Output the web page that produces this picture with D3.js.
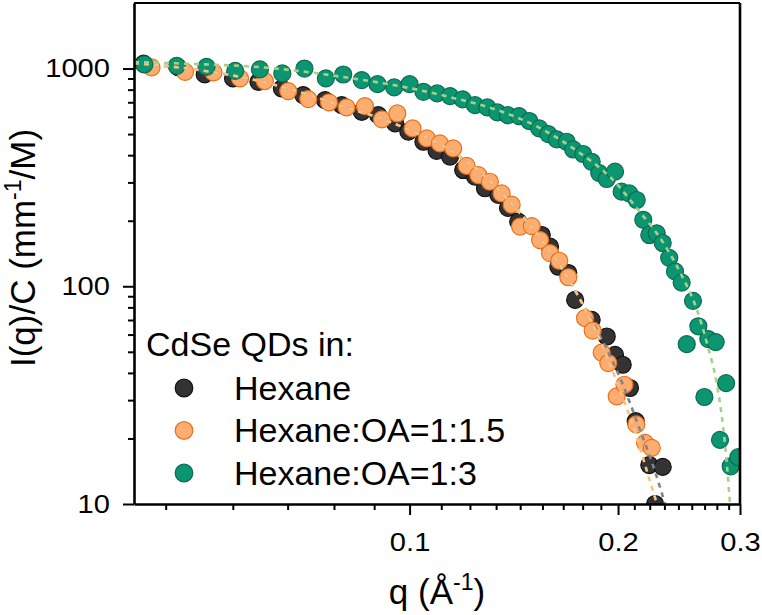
<!DOCTYPE html>
<html>
<head>
<meta charset="utf-8">
<script src="https://cdn.jsdelivr.net/npm/d3@7"></script>
<style>
  body { margin: 0; background: #fff; }
  text { font-family: "Liberation Sans", Arial, sans-serif; fill: #000; }
</style>
</head>
<body>
<svg class="saxs" width="762" height="615"></svg>
<script>
// measured points, q in 1/A, I(q)/C in mm^-1/M
const hexQ = [0.0413,0.0463,0.0506,0.0556,0.0605,0.0654,0.0702,0.0755,0.0798,0.0853,0.0901,0.0953,0.0996,0.1047,0.1094,0.1144,0.1195,0.1243,0.1285,0.1343,0.1387,0.1435,0.1552,0.1595,0.1640,0.1695,0.1734,0.1832,0.1926,0.1980,0.2031,0.2081,0.2121,0.2219,0.2262,0.2320];
const hexI = [1053,1015,940,901,869,810,755,716,679,633,611,560,513,461,419,394,342,319,282,263,229,198,172,152,123,115,86.6,70.1,58.8,48.4,43.6,34.1,24.0,15.1,10.0,14.8];

const oa15Q = [0.0424,0.0474,0.0521,0.0569,0.0618,0.0668,0.0714,0.0765,0.0811,0.0862,0.0912,0.0960,0.1010,0.1059,0.1106,0.1156,0.1209,0.1257,0.1306,0.1358,0.1404,0.1444,0.1501,0.1543,0.1595,0.1645,0.1695,0.1792,0.1838,0.1894,0.1936,0.1991,0.2043,0.2125,0.2188,0.2237];
const oa15I = [1012,966,960,901,875,788,724,699,663,672,584,622,531,478,453,430,357,324,302,267,237,188,189,163,142,131,110,71.4,62.6,49.6,44.4,31.2,35.3,23.2,19.1,18.1];

const oa3Q = [0.0414,0.0461,0.0509,0.0560,0.0608,0.0655,0.0705,0.0757,0.0802,0.0853,0.0899,0.0950,0.1000,0.1047,0.1096,0.1144,0.1193,0.1243,0.1295,0.1339,0.1386,0.1439,0.1489,0.1539,0.1586,0.1631,0.1686,0.1723,0.1781,0.1832,0.1879,0.1926,0.1980,0.2024,0.2076,0.2128,0.2175,0.2219,0.2274,0.2320,0.2371,0.2417,0.2471,0.2513,0.2566,0.2612,0.2665,0.2700,0.2767,0.2807,0.2864,0.2909,0.2984];
const oa3I = [1044,1029,1018,976,991,950,1000,901,939,885,848,819,848,782,769,747,722,679,663,629,611,605,574,531,500,473,461,425,405,373,331,311,336,272,267,249,202,172,175,158,135,117,104,54.2,85.7,65.5,31.0,57.2,55.4,19.7,35.9,14.9,16.4];

// fitted curves (dashed)
const hexFitQ = [0.04,0.0498,0.0608,0.0695,0.0807,0.0906,0.1,0.1144,0.1264,0.1396,0.1543,0.1704,0.1883,0.2013,0.2151,0.2262,0.2338];
const hexFitI = [1059,983,875,779,665,592,522,422,335,244,167,105,59.2,38.0,21.9,14.1,10];
const oa15FitQ = [0.04,0.0498,0.0608,0.0695,0.0807,0.0906,0.1,0.1144,0.1264,0.1396,0.1543,0.1704,0.1883,0.1999,0.2116,0.2210,0.2276];
const oa15FitI = [1059,983,875,779,665,592,522,422,335,244,167,105,56.8,35.3,21.5,13.6,10];
const oa3FitQ = [0.04,0.0498,0.0608,0.0695,0.0820,0.0968,0.1144,0.1351,0.1543,0.1762,0.1947,0.2151,0.2299,0.2458,0.2600,0.2697,0.2779,0.2836,0.2874,0.2902];
const oa3FitI = [1070,1047,1015,973,904,830,739,638,533,409,318,219,167,116,77.9,52.7,35.3,22.6,14.8,10];

const seriesNames = ["Hexane", "Hexane:OA=1:1.5", "Hexane:OA=1:3"];
const legendTitle = "CdSe QDs in:";
const xTicks = [0.1, 0.2, 0.3];
const yTicks = [10, 100, 1000];

(function saxsPlot() {
    var svg = d3.select("svg.saxs"),
        margin = {top: 3, right: 22, bottom: 111, left: 134},
        width = +svg.attr("width") - margin.left - margin.right,
        height = +svg.attr("height") - margin.top - margin.bottom,
        g = svg.append("g").attr("transform", "translate(" + margin.left + "," + margin.top + ")");

    // tick digits in the figure are a little wider than Arial
    const stretch = 1.12;

    const x = d3.scaleLog().domain([0.04, 0.3]).range([0, width]);
    const y = d3.scaleLog().domain([10, 2000]).range([height, 0]);

    const styles = [
        {fill: "#333333", stroke: "#111111", fit: "#7d8590"},
        {fill: "#fdad6f", stroke: "#e8701c", fit: "#fbc47e"},
        {fill: "#0c9571", stroke: "#0a6c51", fit: "#a9d08a"}
    ];
    const points = [[hexQ, hexI], [oa15Q, oa15I], [oa3Q, oa3I]];
    const fits = [[hexFitQ, hexFitI], [oa15FitQ, oa15FitI], [oa3FitQ, oa3FitI]];

    svg.append("defs").append("clipPath").attr("id", "plotclip")
        .append("rect").attr("width", width).attr("height", height);

    const plot = g.append("g").attr("clip-path", "url(#plotclip)");

    points.forEach(function(p, i) {
        plot.append("g").selectAll("circle")
            .data(d3.zip(p[0], p[1]))
            .join("circle")
            .attr("cx", d => x(d[0]))
            .attr("cy", d => y(d[1]))
            .attr("r", 8.5)
            .attr("fill", styles[i].fill)
            .attr("stroke", styles[i].stroke)
            .attr("stroke-width", 1.2);
    });

    const line = d3.line()
        .x(d => x(d[0]))
        .y(d => y(d[1]))
        .curve(d3.curveMonotoneX);

    fits.forEach(function(f, i) {
        plot.append("path")
            .datum(d3.zip(f[0], f[1]))
            .attr("fill", "none")
            .attr("stroke", styles[i].fit)
            .attr("stroke-width", 2.6)
            .attr("stroke-dasharray", "5,5")
            .attr("d", line);
    });

    // minor ticks
    const xMinor = d3.range(4, 27).filter(k => k % 9 !== 0).map(k => k / 90);
    const yMinor = [20,30,40,50,60,70,80,90,200,300,400,500,600,700,800,900];

    g.append("g")
        .attr("transform", "translate(0," + height + ")")
        .call(d3.axisBottom(x).tickValues(xMinor).tickSize(6).tickFormat(""))
        .call(a => a.select(".domain").remove())
        .selectAll("line").attr("stroke-width", 2);

    g.append("g")
        .call(d3.axisLeft(y).tickValues(yMinor).tickSize(6).tickFormat(""))
        .call(a => a.select(".domain").remove())
        .selectAll("line").attr("stroke-width", 2);

    const xAx = g.append("g")
        .attr("transform", "translate(0," + height + ")")
        .call(d3.axisBottom(x).tickValues(xTicks).tickSize(11).tickSizeOuter(0)
            .tickPadding(18).tickFormat(d3.format(".1f")));
    xAx.attr("font-size", 26).attr("font-family", null);
    xAx.selectAll("text").attr("transform", "scale(" + stretch + ",1)");

    const yAx = g.append("g")
        .call(d3.axisLeft(y).tickValues(yTicks).tickSize(11).tickSizeOuter(0)
            .tickFormat(d3.format("d")));
    yAx.attr("font-size", 26).attr("font-family", null);
    yAx.selectAll("text").attr("x", 0)
        .attr("transform", "translate(-24,0) scale(" + stretch + ",1)");

    g.selectAll(".tick line").attr("stroke-width", 2);
    g.selectAll(".domain").attr("stroke-width", 2.6);

    // frame top and right
    g.append("line").attr("x1", 0).attr("x2", width).attr("y1", 0).attr("y2", 0)
        .attr("stroke", "#000").attr("stroke-width", 2.2);
    g.append("line").attr("x1", width).attr("x2", width).attr("y1", 0).attr("y2", height)
        .attr("stroke", "#000").attr("stroke-width", 2.6);

    // axis titles
    const xt = svg.append("text")
        .attr("x", margin.left + width / 2)
        .attr("y", 604)
        .attr("text-anchor", "middle")
        .attr("font-size", 35);
    xt.append("tspan").text("q (Å");
    xt.append("tspan").attr("font-size", 23).attr("dy", -14).text("-1");
    xt.append("tspan").attr("dy", 14).text(")");

    const yt = svg.append("text")
        .attr("transform", "translate(35,248) rotate(-90)")
        .attr("text-anchor", "middle")
        .attr("font-size", 35);
    yt.append("tspan").text("I(q)/C (mm");
    yt.append("tspan").attr("font-size", 23).attr("dy", -14).text("-1");
    yt.append("tspan").attr("dy", 14).text("/M)");

    // legend
    const leg = svg.append("g");
    leg.append("text").attr("x", 146).attr("y", 356)
        .attr("font-size", 34).text(legendTitle);
    seriesNames.forEach(function(name, i) {
        const cy = 388 + i * 42.5;
        leg.append("circle").attr("cx", 184).attr("cy", cy).attr("r", 8.8)
            .attr("fill", styles[i].fill).attr("stroke", styles[i].stroke).attr("stroke-width", 1.2);
        leg.append("text").attr("x", 234).attr("y", cy + 11.5)
            .attr("font-size", 34).text(name);
    });
})();
</script>
</body>
</html>
